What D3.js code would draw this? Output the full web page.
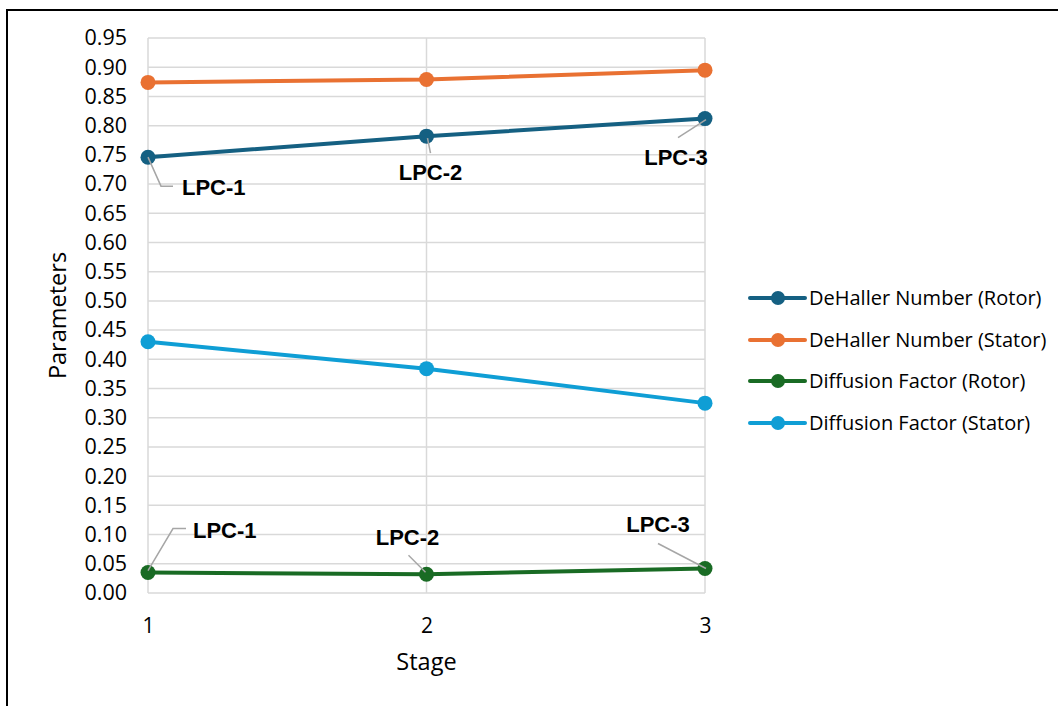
<!DOCTYPE html>
<html>
<head>
<meta charset="utf-8">
<script src="https://cdn.jsdelivr.net/npm/d3@7"></script>
<style>
  html, body { margin: 0; padding: 0; background: #fff; }
  svg { display: block; }
</style>
</head>
<body>
<svg id="chart" width="1058" height="706"></svg>
<script>
// Compressor stage data
const stages = [1, 2, 3];
const yTicks = d3.range(0, 20).map(i => +(i * 0.05).toFixed(2));
const seriesNames = [
  "DeHaller Number (Rotor)",
  "DeHaller Number (Stator)",
  "Diffusion Factor (Rotor)",
  "Diffusion Factor (Stator)"
];
const dehallerRotor  = [0.746, 0.782, 0.812];
const dehallerStator = [0.874, 0.879, 0.895];
const diffusionRotor = [0.035, 0.032, 0.042];
const diffusionStator = [0.430, 0.384, 0.325];
const stageLabels = ["LPC-1", "LPC-2", "LPC-3"];

const colors = ["#156082", "#E97132", "#196B24", "#0F9ED5"];
const seriesValues = [dehallerRotor, dehallerStator, diffusionRotor, diffusionStator];

const svg = d3.select("#chart");
const regularFont = "'Open Sans', 'Liberation Sans', Arial, sans-serif";
const boldFont = "'Liberation Sans', Arial, sans-serif";

// chart frame (runs off the right and bottom edges)
svg.append("rect")
  .attr("x", 7).attr("y", 10)
  .attr("width", 1100).attr("height", 760)
  .attr("fill", "#fff")
  .attr("stroke", "#000")
  .attr("stroke-width", 2);

const x = d3.scaleLinear().domain([1, 3]).range([148, 705]);
const y = d3.scaleLinear().domain([0, 0.95]).range([593, 38]);

// gridlines
const grid = svg.append("g").attr("stroke", "#d9d9d9").attr("stroke-width", 1.5);
grid.selectAll("line.h").data(yTicks).join("line")
  .attr("class", "h")
  .attr("x1", x(1)).attr("x2", x(3))
  .attr("y1", d => y(d)).attr("y2", d => y(d));
grid.selectAll("line.v").data(stages).join("line")
  .attr("class", "v")
  .attr("x1", d => x(d)).attr("x2", d => x(d))
  .attr("y1", y(0)).attr("y2", y(0.95));

// y axis
const yAxis = svg.append("g")
  .attr("transform", `translate(${x(1)},0)`)
  .call(d3.axisLeft(y).tickValues(yTicks).tickFormat(d3.format(".2f")).tickSize(0).tickPadding(21));
yAxis.select(".domain").remove();
yAxis.selectAll("text")
  .attr("font-family", regularFont)
  .attr("font-size", 21.5)
  .attr("fill", "#000");

// x axis
const xAxis = svg.append("g")
  .attr("transform", `translate(0,${y(0)})`)
  .call(d3.axisBottom(x).tickValues(stages).tickFormat(d3.format("d")).tickSize(0).tickPadding(25));
xAxis.select(".domain").remove();
xAxis.selectAll("text")
  .attr("font-family", regularFont)
  .attr("font-size", 21)
  .attr("fill", "#000");

// axis titles
svg.append("text")
  .attr("x", (x(1) + x(3)) / 2).attr("y", 670)
  .attr("text-anchor", "middle")
  .attr("font-family", regularFont)
  .attr("font-size", 23.5)
  .attr("fill", "#000")
  .text("Stage");

svg.append("text")
  .attr("transform", `translate(66,${(y(0) + y(0.95)) / 2}) rotate(-90)`)
  .attr("text-anchor", "middle")
  .attr("font-family", regularFont)
  .attr("font-size", 23.5)
  .attr("fill", "#000")
  .text("Parameters");

// series lines and markers
const line = d3.line().x((d, i) => x(stages[i])).y(d => y(d));
seriesValues.forEach((vals, si) => {
  const g = svg.append("g");
  g.append("path")
    .attr("d", line(vals))
    .attr("fill", "none")
    .attr("stroke", colors[si])
    .attr("stroke-width", 4)
    .attr("stroke-linejoin", "round");
  g.selectAll("circle").data(vals).join("circle")
    .attr("cx", (d, i) => x(stages[i]))
    .attr("cy", d => y(d))
    .attr("r", 7.5)
    .attr("fill", colors[si]);
});

// data labels with leader lines
// offsets: leader path points and text anchor, relative to each marker
const rotorLabelLayout = [
  { path: [[0, 0], [13, 29], [25, 29]], tx: 34, ty: 38, anchor: "start" },
  { path: [[1, 2], [4, 17]], tx: 4, ty: 44, anchor: "middle" },
  { path: [[1, 1], [-27, 19]], tx: -29, ty: 46, anchor: "middle" }
];
const diffusionLabelLayout = [
  { path: [[0, -2], [25, -44], [38, -44]], tx: 45, ty: -35, anchor: "start" },
  { path: [[-1, -2], [-18, -19]], tx: -19, ty: -29, anchor: "middle" },
  { path: [[1, 0], [-47, -25]], tx: -47, ty: -36, anchor: "middle" }
];

function drawLabels(vals, layout) {
  const g = svg.append("g");
  vals.forEach((v, i) => {
    const px = x(stages[i]), py = y(v);
    const L = layout[i];
    g.append("polyline")
      .attr("points", L.path.map(p => [px + p[0], py + p[1]].join(",")).join(" "))
      .attr("fill", "none")
      .attr("stroke", "#a6a6a6")
      .attr("stroke-width", 1.5);
    g.append("text")
      .attr("x", px + L.tx).attr("y", py + L.ty)
      .attr("text-anchor", L.anchor)
      .attr("font-family", boldFont)
      .attr("font-weight", "bold")
      .attr("font-size", 22)
      .attr("fill", "#000")
      .text(stageLabels[i]);
  });
}
drawLabels(dehallerRotor, rotorLabelLayout);
drawLabels(diffusionRotor, diffusionLabelLayout);

// legend
const legendRows = [298, 340, 381, 423];
const legend = svg.append("g");
seriesNames.forEach((name, i) => {
  const ly = legendRows[i];
  legend.append("line")
    .attr("x1", 750).attr("x2", 805)
    .attr("y1", ly).attr("y2", ly)
    .attr("stroke", colors[i]).attr("stroke-width", 4)
    .attr("stroke-linecap", "round");
  legend.append("circle")
    .attr("cx", 778).attr("cy", ly).attr("r", 7)
    .attr("fill", colors[i]);
  legend.append("text")
    .attr("x", 809).attr("y", ly).attr("dy", "0.36em")
    .attr("font-family", regularFont)
    .attr("font-size", 20)
    .attr("fill", "#000")
    .text(name);
});
</script>
</body>
</html>
